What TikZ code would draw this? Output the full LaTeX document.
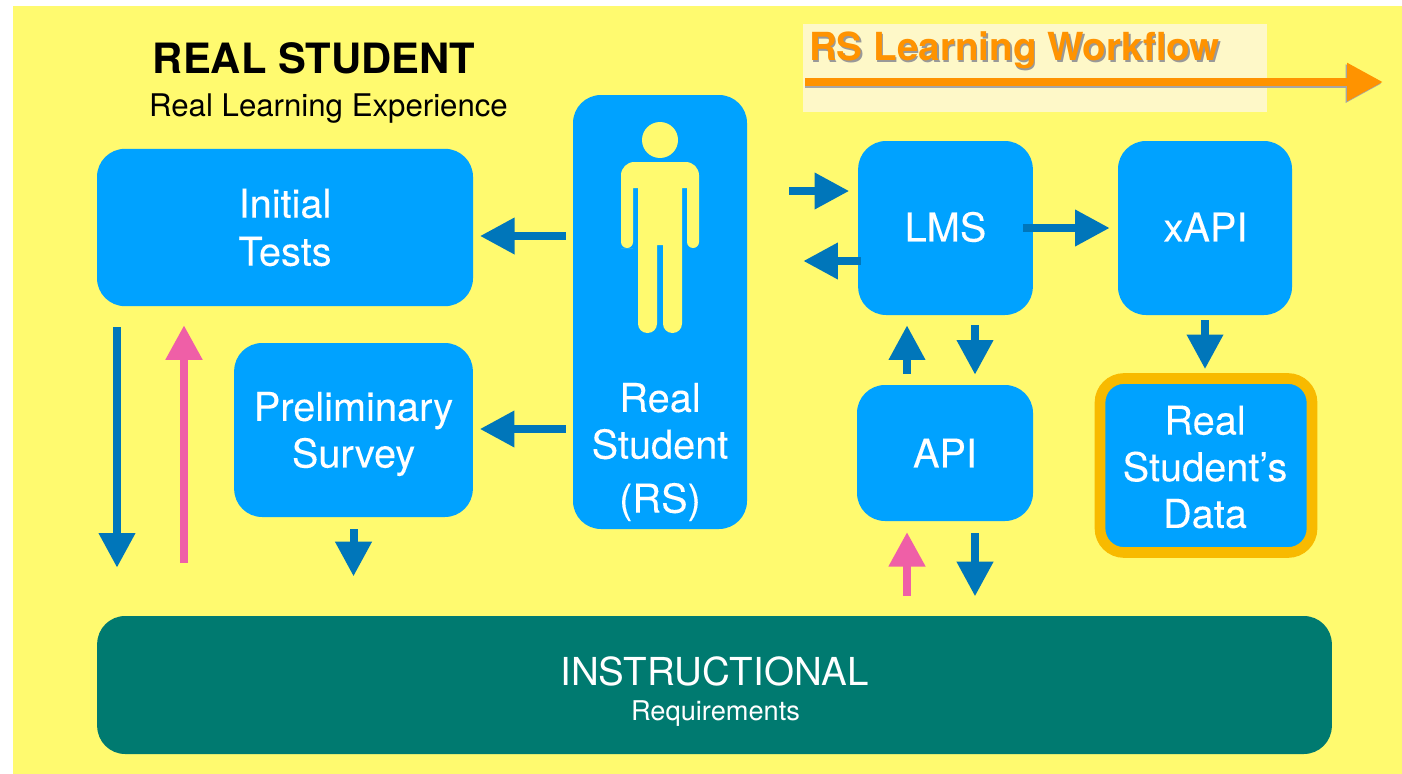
\documentclass[tikz,border=0pt]{standalone}
\usepackage{fontspec}
\setmainfont{TeX Gyre Heros}
\newfontfamily\boxfont[FakeBold=0.12]{TeX Gyre Heros}
\usetikzlibrary{arrows.meta}
\definecolor{pageyellow}{HTML}{FFFA6F}
\definecolor{boxblue}{HTML}{00A2FF}
\definecolor{flowblue}{HTML}{0076BA}
\definecolor{flowpink}{HTML}{EF5FA7}
\definecolor{floworange}{HTML}{FF9300}
\definecolor{ringgold}{HTML}{F8BA00}
\definecolor{baseteal}{HTML}{007A70}
\definecolor{bandcream}{HTML}{FEF8C8}
\begin{document}
\begin{tikzpicture}[x=0.75pt,y=-0.75pt,
   box/.style={fill=boxblue,text=white,rounded corners=21pt,align=center,inner sep=0pt,
     font=\boxfont\fontsize{29.8}{36}\selectfont},
   boxlabel/.style={text=white,align=center,inner sep=0pt,font=\boxfont\fontsize{29.8}{35}\selectfont},
   bluearrow/.style={draw=flowblue,line width=6pt,-{Triangle[length=26pt,width=26pt]}},
   pinkarrow/.style={draw=flowpink,line width=6.5pt,-{Triangle[length=26pt,width=26pt]}},
   orangearrow/.style={draw=floworange,line width=6.5pt,-{Triangle[length=27pt,width=27pt]}},
   shadowgray/.style={draw=black!35,line width=6.5pt,-{Triangle[length=27pt,width=27pt]}}]
\useasboundingbox (0,0) rectangle (1402,774);
\fill[pageyellow] (13,6) rectangle (1402,774);
\node[fill=bandcream,minimum width=348pt,minimum height=66pt,inner sep=0pt] (band) at (1035,68) {};
\node[text=black!40,font=\fontsize{29}{34}\bfseries\selectfont] at (1016,52) {RS Learning Workflow};
\node[text=floworange,font=\fontsize{29}{34}\bfseries\selectfont] (workflow) at (1014.5,50) {RS Learning Workflow};
\coordinate (flowstart) at (805,82);
\coordinate (flowend) at (1383,82);
\draw[shadowgray] ([yshift=-1.2pt]flowstart) -- ([yshift=-1.2pt,xshift=-1pt]flowend);
\draw[orangearrow] (flowstart) -- (flowend);
\node[font=\fontsize{31.3}{38}\bfseries\selectfont] (title) at (314,58) {REAL STUDENT};
\node[font=\fontsize{23.4}{28}\selectfont] (subtitle) at (328.5,108.5) {Real Learning Experience};
\node[box,minimum width=282pt,minimum height=118pt] (tests) at (285,227.5) {Initial\\Tests};
\node[box,minimum width=179pt,minimum height=130.5pt] (survey) at (353.5,430) {};
\node[boxlabel] (surveylabel) at (353.5,434) {Preliminary\\Survey};
\node[box,minimum width=130.5pt,minimum height=325.5pt] (rs) at (660,312) {};
\node[boxlabel] (rslabel) at (660,452) {Real\\Student\\[5.5pt](RS)};
\fill[pageyellow] (660,140) circle (13.5pt);
\fill[pageyellow] (627,248) [rounded corners=4.5pt] -- (621,248) [rounded corners=10pt] -- (621,162) -- (699,162)
  [rounded corners=4.5pt] -- (699,248) -- (687,248) [sharp corners] -- (687,188) -- (682,188)
  [rounded corners=7pt] -- (682,333) -- (663,333) [sharp corners] -- (663,245) -- (657,245)
  [rounded corners=7pt] -- (657,333) -- (638,333) [sharp corners] -- (638,188) -- (633,188)
  [rounded corners=4.5pt] -- (633,248) -- cycle;
\node[box,minimum width=131pt,minimum height=130.5pt] (lms) at (945.5,228) {};
\node[boxlabel] (lmslabel) at (945.5,227) {LMS};
\node[box,minimum width=130.5pt,minimum height=130.5pt] (xapi) at (1205,228) {};
\node[boxlabel] (xapilabel) at (1205.5,227) {xAPI};
\node[box,minimum width=132pt,minimum height=102pt] (api) at (945,453) {API};
\node[box,draw=ringgold,line width=8pt,rounded corners=18pt,minimum width=159pt,minimum height=130.5pt] (data) at (1206,465.5) {};
\node[boxlabel] (datalabel) at (1205,467) {Real\\Student’s\\Data};
\node[fill=baseteal,rounded corners=21pt,minimum width=926pt,minimum height=103.5pt,inner sep=0pt] (instructional) at (714.5,685) {};
\node[text=white,font=\fontsize{28.9}{34}\selectfont] (instrtitle) at (714.5,671) {INSTRUCTIONAL};
\node[text=white,font=\fontsize{20.4}{24}\selectfont] (instrsub) at (715.5,713.5) {Requirements};
\draw[bluearrow,shorten <=5.25pt,shorten >=5pt] (rs.west |- 0,236) -- (tests.east |- 0,236);
\draw[bluearrow,shorten <=5.25pt,shorten >=5pt] (rs.west |- 0,429) -- (survey.east |- 0,429);
\draw[bluearrow,shorten <=15.75pt,shorten >=36pt] (tests.south -| 117,0) -- (instructional.north -| 117,0);
\draw[pinkarrow,shorten <=39.75pt,shorten >=14pt] (instructional.north -| 184,0) -- (tests.south -| 184,0);
\draw[bluearrow,shorten <=9pt,shorten >=29.5pt] (survey.south) -- (instructional.north -| survey.south);
\draw[bluearrow,shorten <=31.5pt,shorten >=6.5pt] (rs.east |- 0,191) -- (lms.west |- 0,191);
\draw[bluearrow,shorten <=-2.25pt,shorten >=42pt] (lms.west |- 0,261) -- (rs.east |- 0,261);
\draw[bluearrow,shorten <=-7.5pt,shorten >=6pt] (lms.east) -- (xapi.west);
\draw[bluearrow,shorten <=8.25pt,shorten >=7.5pt] (api.north -| 907,0) -- (lms.south -| 907,0);
\draw[bluearrow,shorten <=7.5pt,shorten >=7.5pt] (lms.south -| 975,0) -- (api.north -| 975,0);
\draw[bluearrow,shorten <=3.75pt,shorten >=3pt] (xapi.south) -- (data.north -| xapi.south);
\draw[pinkarrow,shorten <=15pt,shorten >=8pt] (instructional.north -| 907,0) -- (api.south -| 907,0);
\draw[bluearrow,shorten <=9pt,shorten >=14.5pt] (api.south -| 975,0) -- (instructional.north -| 975,0);
\end{tikzpicture}
\end{document}
